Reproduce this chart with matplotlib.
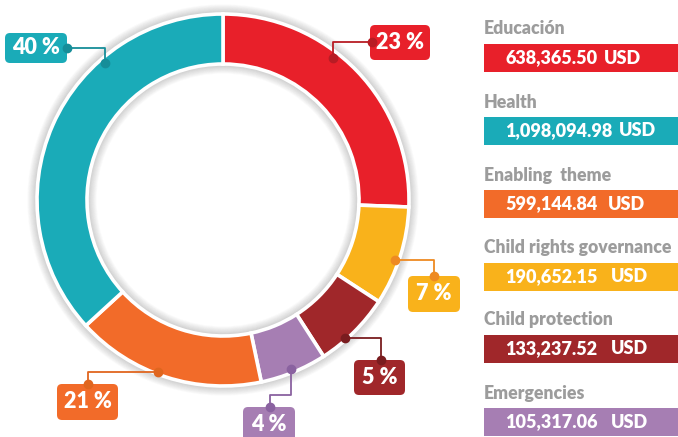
import matplotlib.pyplot as plt
from matplotlib.patches import Circle, FancyBboxPatch, Rectangle

# figure in pixels, origin top-left for layout numbers
W, H = 678, 437


def fy(y):
    return H - y


# Data
#-----
# ring order, clockwise from 12 o'clock
ring_names = ['Educación', 'Child rights governance', 'Child protection',
              'Emergencies', 'Enabling theme', 'Health']
ring_share = [25.6, 8.6, 6.7, 5.8, 16.5, 36.8]   # arc sizes as drawn
pct_labels = ['23 %', '7 %', '5 %', '4 %', '21 %', '40 %']
ring_colors = ['#E8202A', '#F9B21B', '#A0272A', '#A67EB3', '#F26B29', '#1AABB8']
line_colors = ['#B81C24', '#EE8A22', '#7A1C1F', '#8A62A0', '#E0661F', '#168E99']

legend_names = ['Educación', 'Health', 'Enabling  theme',
                'Child rights governance', 'Child protection', 'Emergencies']
legend_amounts = ['638,365.50', '1,098,094.98', '599,144.84',
                  '190,652.15', '133,237.52', '105,317.06']
legend_colors = ['#E8202A', '#1AABB8', '#F26B29', '#F9B21B', '#A0272A', '#A67EB3']

# Layout
#-------
cx, cy = 223, 200
R_out, R_in = 186, 136

# label boxes (x0, y0, x1, y1) and connector paths, same order as ring
boxes = [(370, 25, 430, 60), (408, 276, 460, 312), (354, 360, 405, 395),
         (243, 407, 295, 442), (57, 384, 118, 420), (5, 33, 67, 63)]
paths = [[(333, 58), (333, 42), (372, 42)],
         [(395, 260), (434, 260), (434, 276)],
         [(345, 338), (381, 338), (381, 360)],
         [(291, 369), (291, 395), (270, 395), (270, 407)],
         [(158, 372), (88, 372), (88, 384)],
         [(105, 63), (105, 48), (67, 48)]]

name_y = [28, 102, 175, 247, 320, 393]
bar_top = [44, 117, 190, 263, 335, 408]
usd_x = [604, 619, 608, 611, 611, 611]

plt.rcParams['font.family'] = ['Lato', 'DejaVu Sans']

fig = plt.figure(figsize=(W / 100, H / 100), dpi=100)
ax = fig.add_axes([0, 0, 1, 1])

# soft shadow around the ring
for i in range(9):
    a = 0.22 * (1 - i / 9)
    ax.add_patch(Circle((cx, fy(cy)), R_out + 1 + i, fill=False, ec='#444444', lw=0.9, alpha=a, zorder=1))
    ax.add_patch(Circle((cx, fy(cy)), R_in - 1 - i, fill=False, ec='#444444', lw=0.9, alpha=a, zorder=1))

wedges, _ = ax.pie(ring_share, colors=ring_colors, startangle=90, counterclock=False,
                   center=(cx, fy(cy)), radius=R_out,
                   wedgeprops=dict(width=R_out - R_in, edgecolor='white', linewidth=2.6))
for w in wedges:
    w.set_zorder(2)

# percentage labels
for box, path, lab, col, lc in zip(boxes, paths, pct_labels, ring_colors, line_colors):
    x0, y0, x1, y1 = box
    ax.add_patch(FancyBboxPatch((x0, fy(y1)), x1 - x0, y1 - y0,
                                boxstyle='round,pad=0,rounding_size=5',
                                fc=col, ec='none', zorder=4))
    ax.text((x0 + x1) / 2, fy((y0 + y1) / 2), lab, color='white', fontsize=15.5,
            fontweight='heavy', ha='center', va='center', zorder=5)
    xs = [p[0] for p in path]
    ys = [fy(p[1]) for p in path]
    ax.plot(xs, ys, color=lc, lw=1.3, zorder=3)
    ax.plot([xs[0], xs[-1]], [ys[0], ys[-1]], 'o', color=lc, ms=6, zorder=6)

# legend on the right
for name, amt, col, ny, bt, ux in zip(legend_names, legend_amounts, legend_colors,
                                       name_y, bar_top, usd_x):
    ax.text(484, fy(ny), name, color='#9C9C9C', fontsize=12.7, fontweight='heavy',
            ha='left', va='center')
    ax.add_patch(Rectangle((484, fy(bt + 28)), W - 484, 28, fc=col, ec='none'))
    ax.text(505, fy(bt + 14), amt, color='white', fontsize=13, fontweight='heavy',
            ha='left', va='center')
    ax.text(ux, fy(bt + 14), 'USD', color='white', fontsize=13, fontweight='heavy',
            ha='left', va='center')

ax.set_xlim(0, W)
ax.set_ylim(0, H)
ax.set_aspect('auto')
ax.axis('off')

fig.savefig('out.png', dpi=100)
